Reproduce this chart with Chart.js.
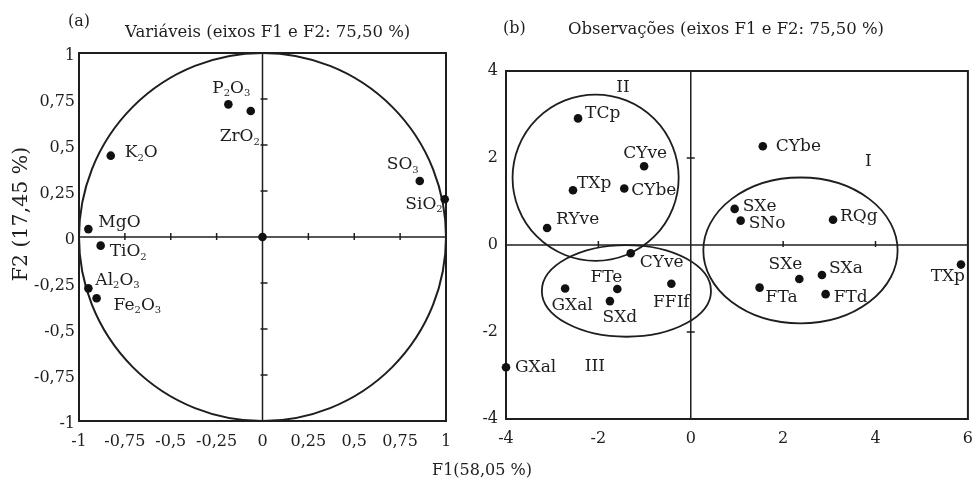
<!DOCTYPE html>
<html><head><meta charset="utf-8">
<script src="https://cdn.jsdelivr.net/npm/chart.js@4.4.0/dist/chart.umd.min.js"></script>
<style>
html,body{margin:0;padding:0;background:#fff;overflow:hidden;width:973px;height:479px;}
#ca{position:absolute;left:0;top:0;}
#cb{position:absolute;left:480px;top:0;}
</style></head><body>
<canvas id="ca" width="973" height="479"></canvas>
<canvas id="cb" width="503" height="479"></canvas>
<script>
// ---- Panel (a): variables ----
const varNames = ['P₂O₃','ZrO₂','K₂O','MgO','TiO₂','Al₂O₃','Fe₂O₃','SO₃','SiO₂'];
const varF1 = [-0.186,-0.064,-0.827,-0.949,-0.882,-0.949,-0.904,0.857,0.993];
const varF2 = [0.721,0.685,0.442,0.043,-0.047,-0.279,-0.333,0.304,0.205];
const originF1 = [0];
const originF2 = [0];
const varTickValues = [-1,-0.75,-0.5,-0.25,0,0.25,0.5,0.75,1];
const varTickLabels = ['-1','-0,75','-0,5','-0,25','0','0,25','0,5','0,75','1'];

// ---- Panel (b): observations ----
const obsNames = ['TCp','CYve','TXp','CYbe','RYve','CYve','GXal','FTe','SXd','FFIf','CYbe','SXe','SNo','RQg','SXe','SXa','FTa','FTd','TXp','GXal'];
const obsF1 = [-2.44,-1.01,-2.55,-1.44,-3.11,-1.30,-2.72,-1.59,-1.75,-0.42,1.56,0.95,1.08,3.08,2.35,2.84,1.49,2.92,5.85,-4.00];
const obsF2 = [2.91,1.81,1.26,1.30,0.39,-0.19,-1.00,-1.01,-1.29,-0.89,2.27,0.83,0.56,0.58,-0.78,-0.69,-0.98,-1.13,-0.45,-2.81];
const obsXTicks = [-4,-2,0,2,4,6];
const obsYTicks = [-4,-2,0,2,4];
const groupNames = ['I','II','III'];
const groupCenterF1 = [2.375,-2.06,-1.393];
const groupCenterF2 = [-0.125,1.547,-1.056];
const groupRadiusF1 = [2.103,1.798,1.831];
const groupRadiusF2 = [1.677,1.911,1.053];
const groupLabelF1 = [3.847,-1.467,-2.076];
const groupLabelF2 = [1.91,3.63,-2.80];

// ---- text strings ----
const titleA = 'Variáveis (eixos F1 e F2: 75,50 %)';
const titleB = 'Observações (eixos F1 e F2: 75,50 %)';
const tagA = '(a)', tagB = '(b)';
const yTitle = 'F2 (17,45 %)';
const xTitle = 'F1(58,05 %)';

// ---- layout (label placement relative to dots: [align, dx, dy]) ----
const varLabelPlace = [['center',3,-16],['center',-11,26],['left',14,-3],['left',10,-7],['left',9,6],['left',7,-8],['left',17,7],['center',-17,-16],['right',-2,5]];
const obsLabelPlace = [['left',7,-5],['center',1,-13],['left',4,-7],['left',7,2],['left',9,-8],['left',9,9],['center',7,17],['right',5,-11],['center',10,16],['center',0,19],['left',13,0],['left',8,-2],['left',8,3],['left',7,-3],['right',3,-14],['left',7,-6],['left',6,10],['left',8,3],['right',4,12],['left',9,0]];

const FONT = '"DejaVu Serif", "Liberation Serif", serif';
const INK = '#1e1e1e';
const SUB = {'₀':'0','₁':'1','₂':'2','₃':'3','₄':'4','₅':'5','₆':'6','₇':'7','₈':'8','₉':'9'};

function drawRich(ctx, text, x, y, align, size){
  const segs=[];
  for (const ch of text){
    const sub = SUB[ch]!==undefined; const c = sub?SUB[ch]:ch;
    if (segs.length && segs[segs.length-1].sub===sub) segs[segs.length-1].t+=c; else segs.push({t:c,sub});
  }
  const fN = size+'px '+FONT, fS = Math.round(size*0.56)+'px '+FONT;
  let w=0; segs.forEach(s=>{ctx.font=s.sub?fS:fN; s.w=ctx.measureText(s.t).width; w+=s.w;});
  let cx = align==='left'?x:(align==='right'?x-w:x-w/2);
  ctx.textAlign='left'; ctx.textBaseline='middle'; ctx.fillStyle=INK;
  segs.forEach(s=>{ctx.font=s.sub?fS:fN; ctx.fillText(s.t,cx,s.sub?y+size*0.32:y); cx+=s.w;});
}
function seg(ctx,x1,y1,x2,y2){ctx.beginPath();ctx.moveTo(x1,y1);ctx.lineTo(x2,y2);ctx.stroke();}

const panelA = {
  id:'panelA',
  beforeDatasetsDraw(chart){
    const {ctx, chartArea:a, scales:{x,y}} = chart;
    ctx.save(); ctx.strokeStyle=INK;
    const x0=x.getPixelForValue(0), y0=y.getPixelForValue(0);
    ctx.lineWidth=1.5;
    seg(ctx,a.left,y0,a.right,y0); seg(ctx,x0,a.top,x0,a.bottom);
    varTickValues.forEach(v=>{
      if (v!==0 && Math.abs(v)<1){
        const px=x.getPixelForValue(v); seg(ctx,px,y0-4,px,y0+3);
        const py=y.getPixelForValue(v); seg(ctx,x0-2,py,x0+5,py);
      }
    });
    ctx.lineWidth=2;
    ctx.beginPath();
    ctx.ellipse(x0,y0,x.getPixelForValue(1)-x0,y0-y.getPixelForValue(1),0,0,2*Math.PI);
    ctx.stroke();
    ctx.strokeRect(a.left,a.top,a.right-a.left,a.bottom-a.top);
    ctx.restore();
  },
  afterDatasetsDraw(chart){
    const {ctx, scales:{x,y}} = chart;
    ctx.save();
    varNames.forEach((n,i)=>{
      const p=varLabelPlace[i];
      drawRich(ctx,n,x.getPixelForValue(varF1[i])+p[1],y.getPixelForValue(varF2[i])+p[2],p[0],17);
    });
    ctx.fillStyle=INK; ctx.textBaseline='alphabetic'; ctx.textAlign='left';
    ctx.font='16px '+FONT; ctx.fillText(tagA,68,26);
    ctx.font='16.5px '+FONT; ctx.fillText(titleA,125,36.5);
    ctx.font='16px '+FONT; ctx.textAlign='center'; ctx.fillText(xTitle,482,475);
    ctx.save(); ctx.translate(22,214); ctx.rotate(-Math.PI/2);
    ctx.font='20.5px '+FONT; ctx.textAlign='center'; ctx.textBaseline='middle'; ctx.fillText(yTitle,0,0);
    ctx.restore();
    ctx.restore();
  }
};

const panelB = {
  id:'panelB',
  beforeDatasetsDraw(chart){
    const {ctx, chartArea:a, scales:{x,y}} = chart;
    ctx.save(); ctx.strokeStyle=INK;
    const x0=x.getPixelForValue(0), y0=y.getPixelForValue(0);
    ctx.lineWidth=1.5;
    seg(ctx,a.left,y0,a.right,y0); seg(ctx,x0,a.top,x0,a.bottom);
    obsXTicks.forEach(v=>{ if (v!==0 && v>x.min && v<x.max){ const px=x.getPixelForValue(v); seg(ctx,px,y0-4,px,y0+2);} });
    obsYTicks.forEach(v=>{ if (v!==0 && v>y.min && v<y.max){ const py=y.getPixelForValue(v); seg(ctx,x0-4,py,x0+4,py);} });
    ctx.lineWidth=1.8;
    groupNames.forEach((g,i)=>{
      const cx=x.getPixelForValue(groupCenterF1[i]), cy=y.getPixelForValue(groupCenterF2[i]);
      const rx=x.getPixelForValue(groupCenterF1[i]+groupRadiusF1[i])-cx;
      const ry=cy-y.getPixelForValue(groupCenterF2[i]+groupRadiusF2[i]);
      ctx.beginPath(); ctx.ellipse(cx,cy,rx,ry,0,0,2*Math.PI); ctx.stroke();
    });
    ctx.lineWidth=2;
    ctx.strokeRect(a.left,a.top,a.right-a.left,a.bottom-a.top);
    ctx.restore();
  },
  afterDatasetsDraw(chart){
    const {ctx, scales:{x,y}} = chart;
    ctx.save();
    obsNames.forEach((n,i)=>{
      const p=obsLabelPlace[i];
      drawRich(ctx,n,x.getPixelForValue(obsF1[i])+p[1],y.getPixelForValue(obsF2[i])+p[2],p[0],17);
    });
    groupNames.forEach((g,i)=>{
      drawRich(ctx,g,x.getPixelForValue(groupLabelF1[i]),y.getPixelForValue(groupLabelF2[i]),'center',17);
    });
    ctx.fillStyle=INK; ctx.textBaseline='alphabetic'; ctx.textAlign='left';
    ctx.font='16px '+FONT; ctx.fillText(tagB,23,33);
    ctx.font='16.5px '+FONT; ctx.fillText(titleB,88,33.5);
    ctx.restore();
  }
};

const tickFont = {family:'DejaVu Serif', size:16};
const hidden = {display:false, drawTicks:false};

new Chart(document.getElementById('ca'), {
  type:'scatter',
  data:{datasets:[
    {data:varF1.map((v,i)=>({x:v,y:varF2[i]})), clip:false, pointRadius:4.3, pointBackgroundColor:'#111', pointBorderWidth:0},
    {data:originF1.map((v,i)=>({x:v,y:originF2[i]})), clip:false, pointRadius:4.3, pointBackgroundColor:'#111', pointBorderWidth:0}
  ]},
  options:{
    responsive:false, animation:false, devicePixelRatio:1, events:[],
    layout:{padding:{left:0,top:53,right:527,bottom:28}},
    plugins:{legend:{display:false},tooltip:{enabled:false}},
    scales:{
      x:{type:'linear',min:-1,max:1,grid:hidden,border:{display:false},
        afterBuildTicks:s=>{s.ticks=varTickValues.map(v=>({value:v}));},
        afterFit:s=>{s.height=30;},
        ticks:{padding:11,font:tickFont,color:INK,maxRotation:0,autoSkip:false,callback:(v,i)=>varTickLabels[i]}},
      y:{type:'linear',min:-1,max:1,grid:hidden,border:{display:false},
        afterBuildTicks:s=>{s.ticks=varTickValues.map(v=>({value:v}));},
        afterFit:s=>{s.width=79;},
        ticks:{padding:4,labelOffset:3,font:tickFont,color:INK,autoSkip:false,callback:(v,i)=>varTickLabels[i]}}
    }
  },
  plugins:[panelA]
});

new Chart(document.getElementById('cb'), {
  type:'scatter',
  data:{datasets:[
    {data:obsF1.map((v,i)=>({x:v,y:obsF2[i]})), clip:false, pointRadius:4.3, pointBackgroundColor:'#111', pointBorderWidth:0}
  ]},
  options:{
    responsive:false, animation:false, devicePixelRatio:1, events:[],
    layout:{padding:{left:0,top:71,right:13,bottom:30}},
    plugins:{legend:{display:false},tooltip:{enabled:false}},
    scales:{
      x:{type:'linear',min:-4,max:6,grid:hidden,border:{display:false},
        afterBuildTicks:s=>{s.ticks=obsXTicks.map(v=>({value:v}));},
        afterFit:s=>{s.height=30;},
        ticks:{padding:10,font:tickFont,color:INK,maxRotation:0,autoSkip:false,callback:(v,i)=>String(obsXTicks[i])}},
      y:{type:'linear',min:-4,max:4,grid:hidden,border:{display:false},
        afterBuildTicks:s=>{s.ticks=obsYTicks.map(v=>({value:v}));},
        afterFit:s=>{s.width=26;},
        ticks:{padding:8,font:tickFont,color:INK,autoSkip:false,callback:(v,i)=>String(obsYTicks[i])}}
    }
  },
  plugins:[panelB]
});
</script>
</body></html>
